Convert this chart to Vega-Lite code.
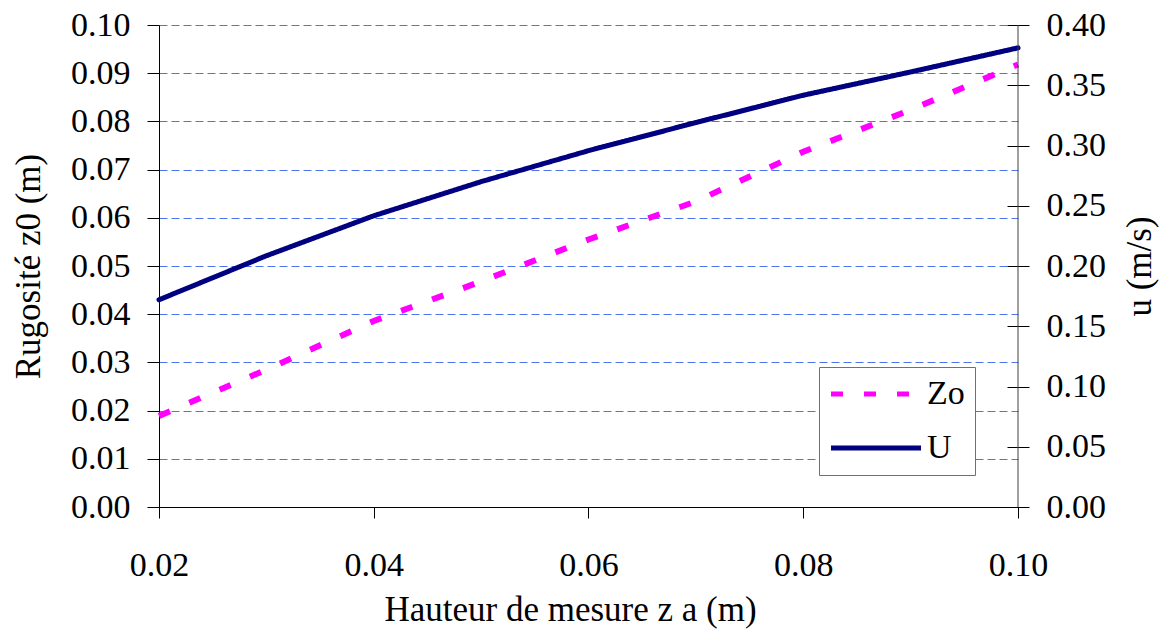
{
  "$schema": "https://vega.github.io/schema/vega-lite/v6.json",
  "width": 859,
  "height": 482,
  "autosize": {"type": "none"},
  "padding": {"left": 159, "top": 25, "right": 149, "bottom": 123},
  "background": "white",
  "config": {
    "font": "Liberation Serif",
    "view": {"stroke": null},
    "style": {
      "guide-label": {"font": "Liberation Serif", "fontSize": 34, "fill": "black"},
      "guide-title": {"font": "Liberation Serif", "fontSize": 35, "fill": "black", "fontWeight": "normal"}
    },
    "axis": {
      "labelFont": "Liberation Serif",
      "titleFont": "Liberation Serif",
      "labelFontSize": 34,
      "titleFontSize": 35,
      "labelColor": "black",
      "titleColor": "black",
      "titleFontWeight": "normal",
      "domainColor": "black",
      "tickColor": "black",
      "domainWidth": 1,
      "tickWidth": 1,
      "labelFlush": false
    },
    "legend": {
      "orient": "none",
      "legendX": 660,
      "legendY": 342,
      "padding": 10,
      "fillColor": "white",
      "strokeColor": "#707070",
      "symbolType": "M-4.5,0H4.5",
      "symbolSize": 400,
      "symbolOffset": 30,
      "symbolStrokeWidth": 5,
      "labelFont": "Liberation Serif",
      "labelFontSize": 34,
      "labelColor": "black",
      "labelOffset": 34,
      "rowPadding": 20
    }
  },
  "datasets": {
    "mesures": [
      {"za": 0.02, "serie": "Zo", "valeur": 0.0189},
      {"za": 0.03, "serie": "Zo", "valeur": 0.0285},
      {"za": 0.04, "serie": "Zo", "valeur": 0.0386},
      {"za": 0.05, "serie": "Zo", "valeur": 0.0468},
      {"za": 0.06, "serie": "Zo", "valeur": 0.0555},
      {"za": 0.07, "serie": "Zo", "valeur": 0.0634},
      {"za": 0.08, "serie": "Zo", "valeur": 0.0737},
      {"za": 0.09, "serie": "Zo", "valeur": 0.0824},
      {"za": 0.10, "serie": "Zo", "valeur": 0.0918},
      {"za": 0.02, "serie": "U", "valeur": 0.172},
      {"za": 0.03, "serie": "U", "valeur": 0.2085},
      {"za": 0.04, "serie": "U", "valeur": 0.2417},
      {"za": 0.05, "serie": "U", "valeur": 0.270},
      {"za": 0.06, "serie": "U", "valeur": 0.2957},
      {"za": 0.07, "serie": "U", "valeur": 0.319},
      {"za": 0.08, "serie": "U", "valeur": 0.3417},
      {"za": 0.09, "serie": "U", "valeur": 0.361},
      {"za": 0.10, "serie": "U", "valeur": 0.381}
    ]
  },
  "data": {"name": "mesures"},
  "encoding": {
    "x": {
      "field": "za",
      "type": "quantitative",
      "scale": {"domain": [0.02, 0.1], "nice": false, "zero": false},
      "axis": {
        "values": [0.02, 0.04, 0.06, 0.08, 0.1],
        "format": ".2f",
        "grid": false,
        "tickSize": 11,
        "labelFlush": false,
        "labelPadding": 30,
        "titlePadding": 10,
        "titleX": 411,
        "title": "Hauteur de mesure z a  (m)"
      }
    }
  },
  "layer": [
    {
      "transform": [{"filter": "datum.serie === 'Zo'"}],
      "mark": {"type": "line", "strokeWidth": 6, "strokeCap": "butt"},
      "encoding": {
        "y": {
          "field": "valeur",
          "type": "quantitative",
          "scale": {"domain": [0, 0.1], "nice": false},
          "axis": {
            "orient": "left",
            "values": [0, 0.01, 0.02, 0.03, 0.04, 0.05, 0.06, 0.07, 0.08, 0.09, 0.1],
            "format": ".2f",
            "grid": true,
            "gridColor": "#4f74ea",
            "gridDash": [8, 4],
            "gridWidth": 1,
            "tickSize": 12,
            "labelPadding": 17,
            "titlePadding": 24,
            "title": "Rugosité z0  (m)"
          }
        },
        "color": {
          "field": "serie",
          "type": "nominal",
          "scale": {"domain": ["Zo", "U"], "range": ["#FF00FF", "#000080"]},
          "legend": {"title": null}
        },
        "strokeDash": {
          "field": "serie",
          "type": "nominal",
          "scale": {"domain": ["Zo", "U"], "range": [[12, 21], [1, 0]]},
          "legend": {"title": null}
        }
      }
    },
    {
      "transform": [{"filter": "datum.serie === 'U'"}],
      "mark": {"type": "line", "strokeWidth": 5, "strokeCap": "round"},
      "encoding": {
        "y": {
          "field": "valeur",
          "type": "quantitative",
          "scale": {"domain": [0, 0.4], "nice": false},
          "axis": {
            "orient": "right",
            "values": [0, 0.05, 0.1, 0.15, 0.2, 0.25, 0.3, 0.35, 0.4],
            "format": ".2f",
            "grid": false,
            "domain": false,
            "offset": -11,
            "tickSize": 22,
            "labelPadding": 17,
            "titleAngle": 270,
            "titlePadding": 52,
            "title": "u  (m/s)"
          }
        },
        "color": {
          "field": "serie",
          "type": "nominal",
          "scale": {"domain": ["Zo", "U"], "range": ["#FF00FF", "#000080"]},
          "legend": {"title": null}
        },
        "strokeDash": {
          "field": "serie",
          "type": "nominal",
          "scale": {"domain": ["Zo", "U"], "range": [[12, 21], [1, 0]]},
          "legend": {"title": null}
        }
      }
    },
    {
      "transform": [{"filter": "datum.serie === 'U' && datum.za === 0.1"}],
      "mark": {"type": "rule", "color": "#404040", "strokeWidth": 1},
      "encoding": {}
    }
  ],
  "resolve": {"scale": {"y": "independent"}}
}
